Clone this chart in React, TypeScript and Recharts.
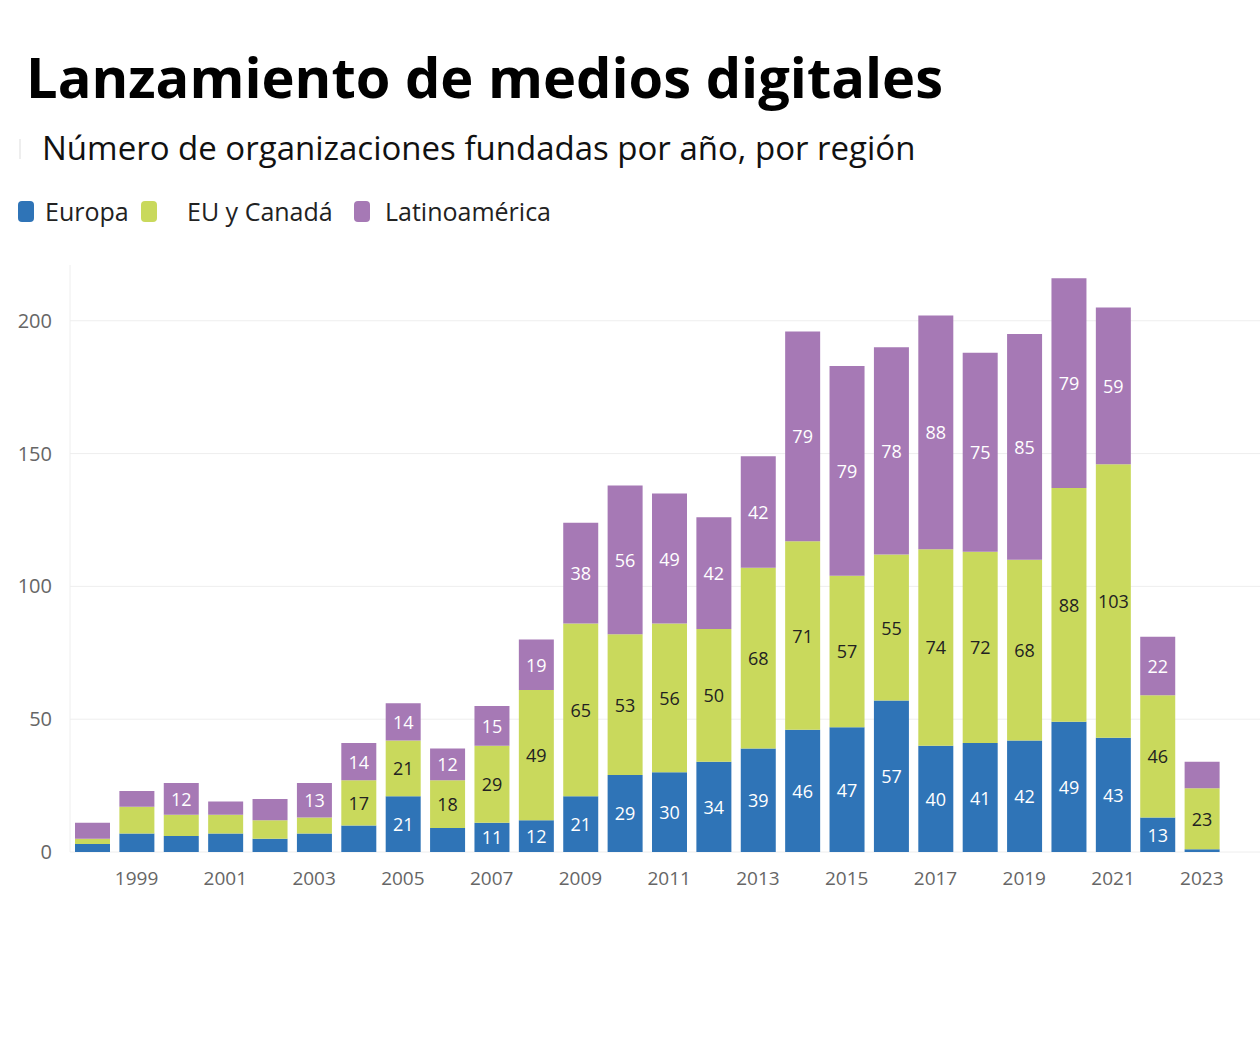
import { BarChart, Bar, XAxis, YAxis, CartesianGrid, LabelList } from "recharts";

const years = [
  "1998", "1999", "2000", "2001", "2002", "2003", "2004", "2005", "2006",
  "2007", "2008", "2009", "2010", "2011", "2012", "2013", "2014", "2015",
  "2016", "2017", "2018", "2019", "2020", "2021", "2022", "2023",
];
const europa = [3, 7, 6, 7, 5, 7, 10, 21, 9, 11, 12, 21, 29, 30, 34, 39, 46, 47, 57, 40, 41, 42, 49, 43, 13, 1];
const euCanada = [2, 10, 8, 7, 7, 6, 17, 21, 18, 29, 49, 65, 53, 56, 50, 68, 71, 57, 55, 74, 72, 68, 88, 103, 46, 23];
const latam = [6, 6, 12, 5, 8, 13, 14, 14, 12, 15, 19, 38, 56, 49, 42, 42, 79, 79, 78, 88, 75, 85, 79, 59, 22, 10];
const yTicks = [0, 50, 100, 150, 200];

const BLUE = "#2f74b7";
const GREEN = "#c9d95c";
const PURPLE = "#a679b5";
const FONT = "'Open Sans', sans-serif";

const data = years.map((year, i) => ({
  year,
  europa: europa[i],
  euCanada: euCanada[i],
  latam: latam[i],
}));

// only segments tall enough get a number, like the original
const segmentLabel = (color: string) => (props: any) => {
  const { x, y, width, height, value } = props;
  if (value == null || value < 11) return null;
  return (
    <text
      x={Number(x) + Number(width) / 2}
      y={Number(y) + Number(height) / 2}
      textAnchor="middle"
      dominantBaseline="central"
      fill={color}
      fontSize={18}
      fontFamily={FONT}
    >
      {value}
    </text>
  );
};

// grid lines only at the ticks, no border line at the top of the plot
const gridRows = ({ yAxis }: any) => {
  const scale = yAxis && yAxis.scale;
  if (!scale) return [];
  return yTicks.map((t) => (typeof scale === "function" ? scale(t) : scale.map(t)));
};

const legendItems = [
  { name: "Europa", color: BLUE, sq: 18, txt: 45 },
  { name: "EU y Canadá", color: GREEN, sq: 141, txt: 187 },
  { name: "Latinoamérica", color: PURPLE, sq: 354, txt: 385 },
];

export default function App() {
  return (
    <div
      style={{
        position: "absolute",
        left: 0,
        top: 0,
        width: 1260,
        height: 1050,
        background: "#fff",
        fontFamily: FONT,
        overflow: "hidden",
      }}
    >
      <div
        style={{
          position: "absolute",
          left: 26,
          top: 36,
          fontSize: 56,
          fontWeight: 700,
          color: "#000",
          lineHeight: "80px",
          whiteSpace: "nowrap",
        }}
      >
        Lanzamiento de medios digitales
      </div>
      <div style={{ position: "absolute", left: 19, top: 139, width: 2, height: 20, background: "#eee" }} />
      <div
        style={{
          position: "absolute",
          left: 42,
          top: 125,
          fontSize: 33,
          color: "#111",
          lineHeight: "46px",
          whiteSpace: "nowrap",
        }}
      >
        Número de organizaciones fundadas por año, por región
      </div>
      {legendItems.map((it) => (
        <div key={it.name}>
          <div
            style={{
              position: "absolute",
              left: it.sq,
              top: 201,
              width: 16,
              height: 21,
              borderRadius: 4,
              background: it.color,
            }}
          />
          <div
            style={{
              position: "absolute",
              left: it.txt,
              top: 194,
              fontSize: 25,
              color: "#222",
              lineHeight: "34px",
              whiteSpace: "nowrap",
            }}
          >
            {it.name}
          </div>
        </div>
      ))}
      <div style={{ position: "absolute", left: 0, top: 250 }}>
        <BarChart
          width={1260}
          height={650}
          data={data}
          margin={{ top: 15, right: 0, left: 0, bottom: 0 }}
        >
          <CartesianGrid vertical={false} stroke="#eeeeee" horizontalCoordinatesGenerator={gridRows} />
          <XAxis
            dataKey="year"
            interval={0}
            axisLine={false}
            tickLine={false}
            height={48}
            tickMargin={14}
            padding={{ left: 0, right: 36 }}
            tick={{ fill: "#666", fontSize: 19, fontFamily: FONT }}
            tickFormatter={(v: string) => (Number(v) % 2 === 1 ? v : "")}
          />
          <YAxis
            width={70}
            domain={[0, 221]}
            ticks={yTicks}
            allowDataOverflow
            axisLine={{ stroke: "#eeeeee" }}
            tickLine={false}
            tickSize={0}
            tickMargin={18}
            tick={{ fill: "#666", fontSize: 20, fontFamily: FONT }}
          />
          <Bar dataKey="europa" stackId="a" fill={BLUE} barSize={35} isAnimationActive={false}>
            <LabelList dataKey="europa" content={segmentLabel("#fff")} />
          </Bar>
          <Bar dataKey="euCanada" stackId="a" fill={GREEN} barSize={35} isAnimationActive={false}>
            <LabelList dataKey="euCanada" content={segmentLabel("#222")} />
          </Bar>
          <Bar dataKey="latam" stackId="a" fill={PURPLE} barSize={35} isAnimationActive={false}>
            <LabelList dataKey="latam" content={segmentLabel("#fff")} />
          </Bar>
        </BarChart>
      </div>
    </div>
  );
}
